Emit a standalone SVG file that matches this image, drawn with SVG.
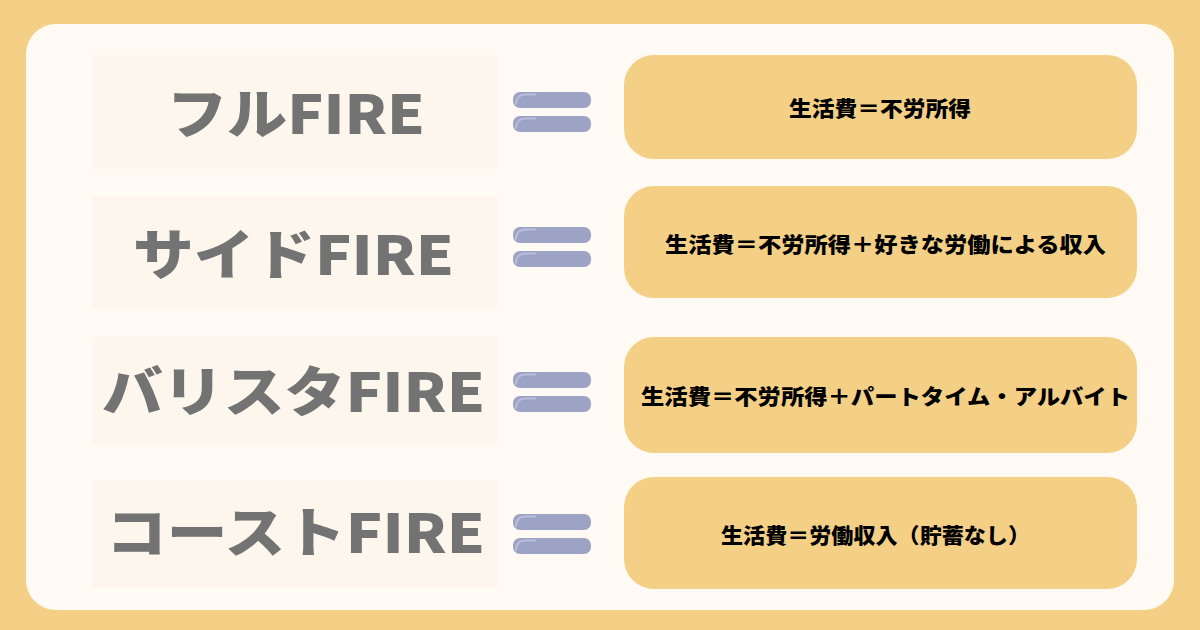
<svg xmlns="http://www.w3.org/2000/svg" width="1200" height="630" viewBox="0 0 1200 630">
<defs>
<style>
.bg{fill:#f4d087}
.panel{fill:#fffaf4}
.lbox{fill:#fcf6ec}
.rbox{fill:#f4d087}
.ltxt{font-family:"Noto Sans CJK JP","Noto Sans",sans-serif;font-weight:900;font-size:54px;fill:#737373}
.rtxt{font-family:"Noto Sans CJK JP","Noto Sans",sans-serif;font-weight:900;font-size:21px;fill:#000}
.bar{fill:#9da3c5}
.hl{fill:none;stroke:#b9bedb;stroke-width:2;stroke-linecap:round}
</style>
<g id="eq">
<rect class="bar" x="0" y="0" width="78" height="16" rx="7"/>
<path class="hl" d="M3 12 Q3 3 12 2.5 L22 2.5"/>
<rect class="bar" x="0" y="24" width="78" height="16" rx="7"/>
<path class="hl" d="M3 36 Q3 27 12 26.5 L22 26.5"/>
</g>
</defs>
<rect class="bg" x="0" y="0" width="1200" height="630"/>
<rect class="panel" x="26" y="24" width="1148" height="586" rx="30"/>

<g id="node-full">
<rect class="lbox" x="92" y="55" width="405" height="114"/>
<text class="ltxt" x="167" y="134" textLength="258" lengthAdjust="spacingAndGlyphs">フルFIRE</text>
</g>
<g id="node-side">
<rect class="lbox" x="92" y="196" width="405" height="113"/>
<text class="ltxt" x="133" y="275" textLength="321" lengthAdjust="spacingAndGlyphs">サイドFIRE</text>
</g>
<g id="node-barista">
<rect class="lbox" x="92" y="337" width="405" height="108"/>
<text class="ltxt" x="102" y="412" textLength="383" lengthAdjust="spacingAndGlyphs">バリスタFIRE</text>
</g>
<g id="node-coast">
<rect class="lbox" x="92" y="480" width="405" height="108"/>
<text class="ltxt" x="106" y="553" textLength="379" lengthAdjust="spacingAndGlyphs">コーストFIRE</text>
</g>

<g id="connectors">
<use href="#eq" x="513" y="92"/>
<use href="#eq" x="513" y="227"/>
<use href="#eq" x="513" y="372"/>
<use href="#eq" x="513" y="514"/>
</g>

<g id="def-full">
<rect class="rbox" x="624" y="55" width="513" height="104" rx="30"/>
<text class="rtxt" x="789" y="116" textLength="182" lengthAdjust="spacingAndGlyphs">生活費＝不労所得</text>
</g>
<g id="def-side">
<rect class="rbox" x="624" y="186" width="513" height="112" rx="30"/>
<text class="rtxt" x="665" y="251.5" textLength="441" lengthAdjust="spacingAndGlyphs">生活費＝不労所得＋好きな労働による収入</text>
</g>
<g id="def-barista">
<rect class="rbox" x="624" y="337" width="513" height="116" rx="30"/>
<text class="rtxt" x="641" y="403.5" textLength="489" lengthAdjust="spacingAndGlyphs">生活費＝不労所得＋パートタイム・アルバイト</text>
</g>
<g id="def-coast">
<rect class="rbox" x="624" y="477" width="513" height="112" rx="30"/>
<text class="rtxt" x="721" y="543" textLength="309" lengthAdjust="spacingAndGlyphs">生活費＝労働収入（貯蓄なし）</text>
</g>
</svg>
